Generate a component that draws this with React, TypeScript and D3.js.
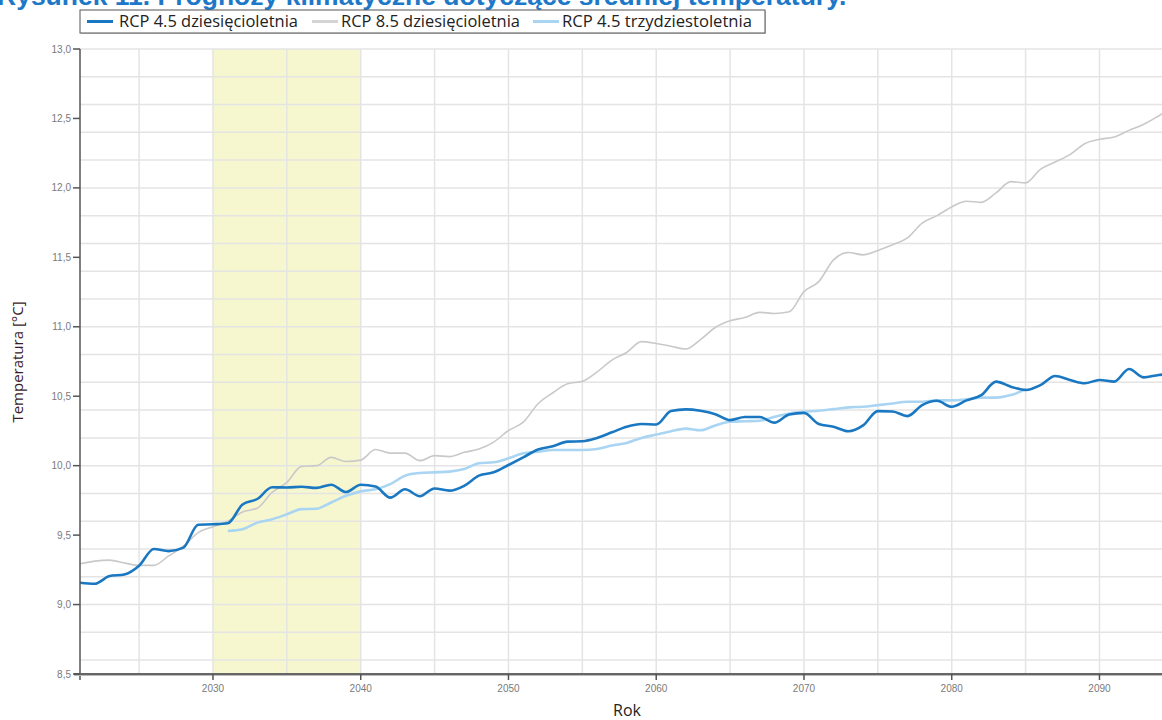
import React from "react";
import * as d3 from "d3";

const years: number[] = d3.range(2021, 2096);

const rcp45Decadal: number[] = [
  9.157, 9.15, 9.205, 9.217, 9.28, 9.4, 9.385, 9.41, 9.575, 9.578,
  9.585, 9.72, 9.76, 9.845, 9.843, 9.848, 9.84, 9.863, 9.81, 9.863,
  9.85, 9.77, 9.83, 9.78, 9.836, 9.82, 9.855, 9.928, 9.952, 10.005,
  10.06, 10.116, 10.14, 10.173, 10.176, 10.2, 10.24, 10.28, 10.3, 10.296,
  10.393, 10.405, 10.395, 10.371, 10.328, 10.35, 10.35, 10.31, 10.369, 10.38,
  10.3, 10.28, 10.248, 10.29, 10.393, 10.39, 10.357, 10.436, 10.467, 10.424,
  10.47, 10.508, 10.605, 10.569, 10.545, 10.58, 10.646, 10.617, 10.593, 10.617,
  10.605, 10.696, 10.636, 10.653, 10.66,
];

const rcp85Decadal: number[] = [
  9.294, 9.313, 9.32, 9.3, 9.282, 9.282, 9.35, 9.42, 9.518, 9.56,
  9.6, 9.667, 9.694, 9.807, 9.88, 9.995, 10.0, 10.06, 10.03, 10.04,
  10.116, 10.09, 10.09, 10.036, 10.072, 10.065, 10.096, 10.12, 10.17, 10.253,
  10.313, 10.446, 10.525, 10.59, 10.607, 10.675, 10.76, 10.815, 10.893, 10.88,
  10.86, 10.84, 10.908, 10.995, 11.043, 11.067, 11.104, 11.096, 11.108, 11.253,
  11.325, 11.482, 11.535, 11.518, 11.55, 11.59, 11.64, 11.747, 11.8, 11.863,
  11.904, 11.896, 11.964, 12.045, 12.036, 12.133, 12.186, 12.24, 12.318, 12.35,
  12.366, 12.414, 12.458, 12.518, 12.58,
];

const years30: number[] = d3.range(2031, 2086);
const rcp45Thirty: number[] = [
  9.53, 9.542, 9.59, 9.614, 9.65, 9.687, 9.69, 9.735, 9.783, 9.815,
  9.83, 9.867, 9.928, 9.947, 9.952, 9.957, 9.976, 10.017, 10.024, 10.053,
  10.089, 10.1, 10.113, 10.113, 10.113, 10.12, 10.145, 10.164, 10.2, 10.224,
  10.248, 10.267, 10.255, 10.29, 10.316, 10.32, 10.323, 10.352, 10.376, 10.388,
  10.395, 10.407, 10.42, 10.424, 10.436, 10.448, 10.46, 10.46, 10.47, 10.47,
  10.477, 10.49, 10.49, 10.508, 10.55,
];

const yTicks: number[] = [8.5, 9.0, 9.5, 10.0, 10.5, 11.0, 11.5, 12.0, 12.5, 13.0];
const xTicks: number[] = [2030, 2040, 2050, 2060, 2070, 2080, 2090];
const yGrid: number[] = d3.range(8.6, 13.01, 0.2);
const xGrid: number[] = d3.range(2025, 2100, 5);
const bandRange: number[] = [2030, 2040];

const seriesNames: string[] = [
  "RCP 4.5 dziesięcioletnia",
  "RCP 8.5 dziesięcioletnia",
  "RCP 4.5 trzydziestoletnia",
];
const title = "Rysunek 11. Prognozy klimatyczne dotyczące średniej temperatury.";

const W = 1162;
const H = 720;
const left = 80;
const top = 49;
const bottom = 674;

export default function App() {
  const x = d3.scaleLinear().domain([2021, 2100]).range([left, left + 79 * 14.775]);
  const y = d3.scaleLinear().domain([8.5, 13]).range([bottom, top]);
  const line = d3
    .line<[number, number]>()
    .x((d) => x(d[0]))
    .y((d) => y(d[1]))
    .curve(d3.curveMonotoneX);

  const blue = line(years.map((yr, i) => [yr, rcp45Decadal[i]]));
  const gray = line(years.map((yr, i) => [yr, rcp85Decadal[i]]));
  const light = line(years30.map((yr, i) => [yr, rcp45Thirty[i]]));
  const fmt = (v: number) => d3.format(".1f")(v).replace(".", ",");

  const legendItems = [
    { name: seriesNames[0], color: "#1a78c2", sx: 87, tx: 119, tw: 179 },
    { name: seriesNames[1], color: "#d4d4d4", sx: 312, tx: 341, tw: 179 },
    { name: seriesNames[2], color: "#a9d5f3", sx: 533, tx: 562, tw: 190 },
  ];

  return (
    <svg
      width={W}
      height={H}
      style={{ position: "absolute", left: 0, top: 0, background: "#fff" }}
      fontFamily="Liberation Sans, Arial, sans-serif"
    >
      <defs>
        <clipPath id="plot">
          <rect x={left} y={top - 2} width={W - left} height={bottom - top + 2} />
        </clipPath>
      </defs>
      <rect x={0} y={0} width={W} height={H} fill="#fff" />
      <text x={-3} y={5} fontSize={26.5} fontWeight="bold" fill="#1e78c8">
        {title}
      </text>

      <g clipPath="url(#plot)">
        <rect
          x={x(bandRange[0])}
          y={top}
          width={x(bandRange[1]) - x(bandRange[0])}
          height={bottom - top}
          fill="#f7f7cf"
        />
        {yGrid.map((v) => (
          <line key={"gy" + v} x1={left} x2={W} y1={y(v)} y2={y(v)} stroke="#e4e4e4" strokeWidth={1.5} />
        ))}
        {xGrid.map((v) => (
          <line key={"gx" + v} x1={x(v)} x2={x(v)} y1={top} y2={bottom} stroke="#e4e4e4" strokeWidth={1.5} />
        ))}
        <path d={gray || ""} fill="none" stroke="#c9c9c9" strokeWidth={1.6} />
        <path d={light || ""} fill="none" stroke="#a9d5f3" strokeWidth={2.6} />
        <path d={blue || ""} fill="none" stroke="#1a78c2" strokeWidth={2.6} />
      </g>

      {/* axes */}
      <line x1={left} x2={left} y1={top} y2={bottom + 6} stroke="#555" strokeWidth={1.5} />
      <line x1={left - 6} x2={W} y1={bottom} y2={bottom} stroke="#666" strokeWidth={2} />
      <line x1={left - 6} x2={W} y1={bottom + 1.5} y2={bottom + 1.5} stroke="#bbb" strokeWidth={1} />
      {yTicks.map((v) => (
        <g key={"yt" + v}>
          <line x1={left - 7} x2={left} y1={y(v)} y2={y(v)} stroke="#555" strokeWidth={1.5} />
          <text x={left - 9} y={y(v)} dy="0.35em" textAnchor="end" fontSize={10} fill="#7a7a7a">
            {fmt(v)}
          </text>
        </g>
      ))}
      {xTicks.map((v) => (
        <g key={"xt" + v}>
          <line x1={x(v)} x2={x(v)} y1={bottom} y2={bottom + 6} stroke="#555" strokeWidth={1.5} />
          <text x={x(v)} y={bottom + 14} dy="0.35em" textAnchor="middle" fontSize={10} fill="#7a7a7a">
            {v}
          </text>
        </g>
      ))}

      <text
        x={627}
        y={716}
        textAnchor="middle"
        fontSize={16}
        fill="#222"
        fontFamily="Open Sans, sans-serif"
      >
        Rok
      </text>
      <text
        transform={`translate(23, ${362}) rotate(-90)`}
        textAnchor="middle"
        fontSize={15}
        fill="#3a1a28"
        fontFamily="Open Sans, sans-serif"
      >
        Temperatura [°C]
      </text>

      {/* legend */}
      <rect x={81} y={11} width={685} height={23} fill="#ccc" />
      <rect x={80} y={10} width={685} height={23} fill="#fff" stroke="#555" strokeWidth={1} />
      {legendItems.map((it) => (
        <g key={it.name}>
          <line x1={it.sx} x2={it.sx + 26} y1={21.5} y2={21.5} stroke={it.color} strokeWidth={3} />
          <text
            x={it.tx}
            y={21.5}
            dy="0.35em"
            fontSize={15.5}
            fill="#222"
            fontFamily="Open Sans, sans-serif"
            textLength={it.tw}
            lengthAdjust="spacingAndGlyphs"
          >
            {it.name}
          </text>
        </g>
      ))}
    </svg>
  );
}
